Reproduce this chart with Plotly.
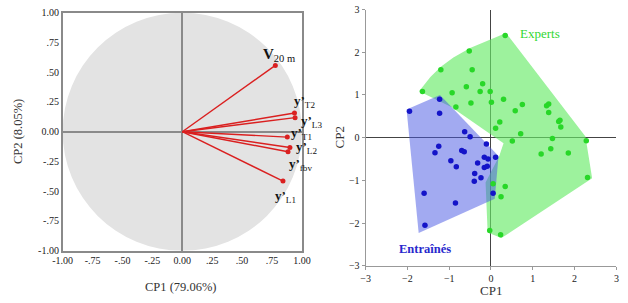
import plotly.graph_objects as go

# ---------------- data: left panel (correlation circle) ----------------
var_names = ["V", "y’", "y’", "y’", "y’", "y’", "y’"]
var_subs = ["20 m", "T2", "L3", "T1", "L2", "fbv", "L1"]
cp1_load = [0.778, 0.938, 0.943, 0.878, 0.900, 0.884, 0.842]
cp2_load = [0.557, 0.157, 0.118, -0.045, -0.133, -0.168, -0.415]

circle_ticks = [-1.0, -0.75, -0.5, -0.25, 0.0, 0.25, 0.5, 0.75, 1.0]
circle_ticktext = ["-1.00", "-.75", "-.50", "-.25", "0.00", ".25", ".50", ".75", "1.00"]

# ---------------- data: right panel (scores) ----------------
experts_x = [0.34, -0.52, -1.20, -0.45, -0.59, -0.20, -1.64, -0.93, -0.26, -0.02,
             -0.48, -0.84, 0.01, 0.30, 0.75, 0.58, 1.33, 1.38, 1.38, 0.21,
             0.11, 1.62, 1.65, 1.67, 0.71, 1.47, 0.51, 2.28, 1.20, 1.43,
             1.85, 2.31, 0.05, 0.34, 0.24, -0.03, 0.23]
experts_y = [2.39, 2.03, 1.59, 1.59, 1.19, 1.26, 1.08, 1.05, 1.08, 1.08,
             0.81, 0.72, 0.83, 0.90, 0.78, 0.63, 0.75, 0.79, 0.59, 0.37,
             0.22, 0.38, 0.41, 0.25, 0.09, -0.02, -0.08, -0.07, -0.38, -0.26,
             -0.36, -0.93, -1.08, -1.14, -1.38, -2.17, -2.27]

trained_x = [-1.95, -1.23, -1.23, -0.63, -0.50, -1.25, -1.34, -0.11, -0.70, -0.64,
             -0.96, -0.83, -0.32, -0.16, -0.07, 0.11, -0.16, -0.09, -0.39, -0.24,
             -0.40, 0.05, -1.60, -0.85, -1.58]
trained_y = [0.62, 0.90, 0.57, 0.14, 0.02, -0.20, -0.35, -0.15, -0.30, -0.33,
             -0.54, -0.68, -0.59, -0.46, -0.50, -0.46, -0.70, -0.67, -0.84, -0.94,
             -1.02, -1.30, -1.30, -1.53, -2.05]

# group envelopes (polygons)
experts_hull_x = [0.36, 2.26, 2.42, 0.25, -0.08, -0.13, 0.20, 0.30, -0.95, -1.72, -1.45, -1.20, -0.90, -0.50]
experts_hull_y = [2.45, 0.03, -0.95, -2.35, -2.22, -1.05, -0.42, -0.13, 0.72, 1.09, 1.42, 1.66, 1.88, 2.10]
trained_hull_x = [-2.02, -1.22, 0.18, 0.09, -1.73]
trained_hull_y = [0.66, 1.00, -0.43, -1.43, -2.23]

score_ticks = [-3, -2, -1, 0, 1, 2, 3]

# ---------------- styling ----------------
SERIF = "Liberation Serif"
RED = "rgb(218,32,32)"
label_offsets = [(-0.12, 0.088), (-0.024, 0.098), (0.035, -0.028), (0.018, 0.032),
                 (0.036, 0.0), (-0.011, -0.109), (-0.085, -0.132)]
label_sizes = [15, 13, 13, 13, 13, 13, 13]

fig = go.Figure()

# vectors
vx, vy = [], []
for a, b in zip(cp1_load, cp2_load):
    vx += [0, a, None]
    vy += [0, b, None]
fig.add_trace(go.Scatter(x=vx, y=vy, mode="lines", line=dict(color=RED, width=1.4),
                         hoverinfo="skip", showlegend=False, xaxis="x", yaxis="y"))
fig.add_trace(go.Scatter(x=cp1_load, y=cp2_load, mode="markers",
                         marker=dict(color=RED, size=5), showlegend=False,
                         xaxis="x", yaxis="y", cliponaxis=False))

# hulls
fig.add_trace(go.Scatter(x=experts_hull_x, y=experts_hull_y, fill="toself", mode="lines",
                         line=dict(width=0), fillcolor="rgba(105,235,105,0.65)",
                         hoverinfo="skip", showlegend=False, xaxis="x2", yaxis="y2"))
fig.add_trace(go.Scatter(x=trained_hull_x, y=trained_hull_y, fill="toself", mode="lines",
                         line=dict(width=0), fillcolor="rgba(70,86,228,0.50)",
                         hoverinfo="skip", showlegend=False, xaxis="x2", yaxis="y2"))
fig.add_trace(go.Scatter(x=experts_x, y=experts_y, mode="markers",
                         marker=dict(color="rgb(40,215,40)", size=5.5), name="Experts",
                         showlegend=False, xaxis="x2", yaxis="y2"))
fig.add_trace(go.Scatter(x=trained_x, y=trained_y, mode="markers",
                         marker=dict(color="rgb(20,20,200)", size=5.5), name="Entraînés",
                         showlegend=False, xaxis="x2", yaxis="y2"))

ann = []
for n, s, a, b, (dx, dy), fs in zip(var_names, var_subs, cp1_load, cp2_load, label_offsets, label_sizes):
    ann.append(dict(x=a + dx, y=b + dy, xref="x", yref="y", xanchor="left", yanchor="middle",
                    text=f"<b>{n}</b><sub>{s}</sub>", showarrow=False,
                    font=dict(family=SERIF, size=fs, color="#111")))
ann.append(dict(x=1.17, y=2.45, xref="x2", yref="y2", text="Experts", showarrow=False,
                xanchor="center", yanchor="middle",
                font=dict(family=SERIF, size=13, color="rgb(50,215,50)")))
ann.append(dict(x=-1.59, y=-2.6, xref="x2", yref="y2", text="<b>Entraînés</b>", showarrow=False,
                xanchor="center", yanchor="middle",
                font=dict(family=SERIF, size=12.5, color="rgb(40,40,205)")))
# axis titles
ann.append(dict(x=176.7 / 628, y=1 - 293 / 303, xref="paper", yref="paper", text="CP1 (79.06%)",
                xanchor="center", yanchor="middle",
                showarrow=False, font=dict(family=SERIF, size=12.5, color="#333")))
ann.append(dict(x=8 / 628, y=1 - 131 / 303, xref="paper", yref="paper", text="CP2 (8.05%)",
                xanchor="center", yanchor="middle",
                textangle=-90, showarrow=False, font=dict(family=SERIF, size=12.5, color="#333")))
ann.append(dict(x=496.5 / 628, y=1 - 296.5 / 303, xref="paper", yref="paper", text="CP1",
                xanchor="center", yanchor="middle",
                showarrow=False, font=dict(family=SERIF, size=13, color="#333")))
ann.append(dict(x=340 / 628, y=1 - 137.7 / 303, xref="paper", yref="paper", text="CP2",
                xanchor="center", yanchor="middle",
                textangle=-90, showarrow=False, font=dict(family=SERIF, size=13, color="#333")))

tickfont = dict(family=SERIF, size=10, color="#222")
left_axis = dict(range=[-1, 1], tickvals=circle_ticks, ticktext=circle_ticktext, showgrid=False,
                 zeroline=True, zerolinecolor="#8a8a8a", zerolinewidth=1.5, showline=True,
                 mirror=True, linecolor="#8a8a8a", linewidth=1.5, ticks="", tickfont=tickfont,
                 fixedrange=True)
right_axis = dict(range=[-3, 3], tickvals=score_ticks, showgrid=False, zeroline=True,
                  zerolinecolor="#444", zerolinewidth=1, showline=True, linecolor="#999",
                  linewidth=1, ticks="outside", ticklen=3, tickcolor="#999", tickfont=tickfont,
                  fixedrange=True)

fig.update_layout(
    width=628, height=303, margin=dict(l=0, r=0, t=0, b=0),
    paper_bgcolor="white", plot_bgcolor="white", showlegend=False,
    xaxis=dict(domain=[54.3 / 628, 301 / 628], anchor="y", **left_axis),
    yaxis=dict(domain=[1 - 255 / 303, 1 - 8 / 303], anchor="x", **left_axis),
    xaxis2=dict(domain=[366.7 / 628, 625.3 / 628], anchor="y2", **right_axis),
    yaxis2=dict(domain=[1 - 270.7 / 303, 1 - 4.7 / 303], anchor="x2", **right_axis),
    shapes=[dict(type="circle", xref="x", yref="y", x0=-1, y0=-1, x1=1, y1=1,
                 fillcolor="#e3e3e3", line=dict(width=0), layer="below")],
    annotations=ann,
)

fig.write_html("out.html")
